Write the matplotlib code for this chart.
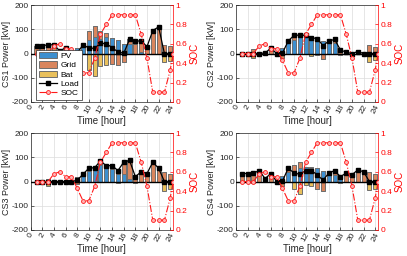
import matplotlib
matplotlib.use('Agg')
import matplotlib.pyplot as plt
import numpy as np
from matplotlib.lines import Line2D
from matplotlib.patches import Patch

plt.rcParams['font.family'] = ['Liberation Sans', 'DejaVu Sans']
plt.rcParams['axes.unicode_minus'] = False

hours = list(range(1, 25))
soc_hours = list(range(1, 25)) + [24.5]
soc = [0.5, 0.5, 0.5, 0.58, 0.6, 0.55, 0.55, 0.43, 0.3, 0.3, 0.45, 0.7,
       0.8, 0.9, 0.9, 0.9, 0.9, 0.9, 0.7, 0.45, 0.1, 0.1, 0.1, 0.33, 0.5]

cs1_pv = [0, 0, 0, 0, 0, 0, 0, 22, 38, 55, 68, 60, 68, 66, 55, 38, 40, 0, 8, 0, 0, 0, 0, 0]
cs1_grid = [32, 32, 36, 40, 10, 24, -10, -20, 0, 38, 46, 32, 18, -42, -48, -37, 18, 40, 45, 28, 95, 110, 37, 30]
cs1_bat = [0, 0, 0, 0, 0, 0, 0, 0, 0, -70, -93, -50, -46, 0, 0, 0, 0, 10, 0, 0, 0, 0, -37, -30]
cs1_load = [32, 32, 36, 36, 10, 24, 0, 2, 36, 23, 21, 42, 41, 24, 7, 1, 58, 50, 53, 28, 95, 110, 0, 0]

cs2_pv = [0, 0, 0, 0, 0, 0, 0, 22, 45, 55, 68, 68, 62, 60, 52, 42, 45, 0, 0, 0, 0, 0, 0, 0]
cs2_grid = [0, 0, 20, 0, 2, 22, -8, -20, 7, 20, 8, 7, 6, 5, -22, 10, 13, 15, 5, 0, 8, 0, 35, 28]
cs2_bat = [0, 0, -20, 0, 0, 0, 0, 0, 0, 0, 0, 0, -10, -8, 0, 0, 0, -8, 0, 0, 0, 0, -35, -28]
cs2_load = [0, 0, 0, 0, 2, 22, 0, 2, 52, 75, 76, 75, 65, 62, 32, 52, 58, 15, 5, 0, 8, 0, 0, 0]

cs3_pv = [0, 0, 0, 0, 0, 0, 0, 20, 25, 45, 50, 70, 55, 50, 30, 30, 10, 0, 0, 0, 0, 0, 0, 0]
cs3_grid = [0, 0, 10, 0, 0, 0, -8, -10, 5, 10, 7, 15, 13, 15, 15, 50, 77, 20, 40, 33, 80, 55, 38, 30]
cs3_bat = [0, 0, -20, 0, 0, 0, 0, 0, 0, 0, 0, 0, 0, 0, -5, 0, 0, -8, 0, 0, 0, 0, -38, -30]
cs3_load = [0, 0, 0, 0, 0, 0, 0, 5, 30, 55, 57, 85, 65, 66, 45, 80, 87, 20, 40, 33, 80, 55, 0, 0]

cs4_pv = [0, 0, 0, 0, 0, 0, 0, 22, 40, 45, 55, 60, 55, 55, 45, 30, 25, 10, 0, 0, 0, 0, 0, 0]
cs4_grid = [33, 33, 38, 45, 2, 33, -8, -20, 18, 25, 25, 0, 3, -30, -40, 5, 20, 10, 35, 28, 48, 40, 38, 30]
cs4_bat = [0, 0, -8, 0, 10, 0, 0, 0, 0, -30, -50, -15, -20, 0, 0, 0, 0, -8, 0, 0, 0, 0, -35, -30]
cs4_load = [33, 33, 35, 45, 12, 33, 0, 2, 55, 35, 30, 45, 45, 28, 5, 35, 45, 20, 35, 28, 48, 40, 0, 0]

stations = ['CS1', 'CS2', 'CS3', 'CS4']
pv_all = [cs1_pv, cs2_pv, cs3_pv, cs4_pv]
grid_all = [cs1_grid, cs2_grid, cs3_grid, cs4_grid]
bat_all = [cs1_bat, cs2_bat, cs3_bat, cs4_bat]
load_all = [cs1_load, cs2_load, cs3_load, cs4_load]

c_pv = '#3d8fcf'
c_grid = '#d9855d'
c_bat = '#e9c05c'
c_edge = '#6e6e6e'
c_axis = '#262626'

fig = plt.figure(figsize=(4.07, 2.56), dpi=100)
positions = [
    [0.0754, 0.602, 0.350, 0.378],
    [0.580, 0.602, 0.349, 0.378],
    [0.0754, 0.102, 0.350, 0.378],
    [0.580, 0.102, 0.349, 0.378],
]

for i in range(4):
    ax = fig.add_axes(positions[i])
    x = np.array(hours, dtype=float)
    pos_bottom = np.zeros(24)
    neg_bottom = np.zeros(24)
    for vals, col in [(pv_all[i], c_pv), (grid_all[i], c_grid), (bat_all[i], c_bat)]:
        v = np.array(vals, dtype=float)
        vp = np.where(v > 0, v, 0)
        vn = np.where(v < 0, v, 0)
        ax.bar(x, vp, width=0.7, bottom=pos_bottom, color=col, edgecolor=c_edge,
               linewidth=0.7, zorder=2)
        ax.bar(x, vn, width=0.7, bottom=neg_bottom, color=col, edgecolor=c_edge,
               linewidth=0.7, zorder=2)
        pos_bottom += vp
        neg_bottom += vn
    ax.axhline(0, color='black', lw=1.0, zorder=3)
    ax.plot(hours, load_all[i], color='black', lw=0.9, marker='s', ms=2.2, zorder=4)
    ax.set_xlim(0, 24.5)
    ax.set_ylim(-200, 200)
    ax.set_yticks([-200, -100, 0, 100, 200])
    ax.set_xticks(range(0, 25, 2))
    ax.set_xticklabels([str(t) for t in range(0, 25, 2)], rotation=60, ha='center')
    ax.tick_params(axis='both', labelsize=6, direction='in', length=2, width=0.5,
                   colors=c_axis, pad=1.5)
    ax.tick_params(axis='x', pad=1)
    ax.grid(True, color='#dcdcdc', lw=0.5, zorder=0)
    ax.set_axisbelow(True)
    ax.set_ylabel(stations[i] + ' Power [kW]', fontsize=6.5, labelpad=0.5, color=c_axis)
    ax.set_xlabel('Time [hour]', fontsize=7, labelpad=1, color=c_axis)
    for s in ['left', 'bottom', 'top']:
        ax.spines[s].set_color(c_axis)
        ax.spines[s].set_linewidth(0.5)
    ax.spines['right'].set_visible(False)

    ax2 = ax.twinx()
    ax2.set_ylim(0, 1)
    ax2.set_yticks([0, 0.2, 0.4, 0.6, 0.8, 1])
    ax2.set_yticklabels(['0', '0.2', '0.4', '0.6', '0.8', '1'])
    ax2.plot(soc_hours, soc, color='#ff1a1a', lw=0.8, ls='-.', marker='o', ms=2.8,
             mfc='#ffb3b3', mec='#ff1a1a', mew=0.6, zorder=5)
    ax2.tick_params(axis='y', labelsize=6, direction='in', length=2, width=0.5,
                    colors='#ff0000', pad=1.5)
    ax2.set_ylabel('SOC', fontsize=7, color='#ff0000', labelpad=2)
    ax2.spines['right'].set_color('#ff0000')
    ax2.spines['right'].set_linewidth(0.5)
    for s in ['left', 'bottom', 'top']:
        ax2.spines[s].set_visible(False)

    if i == 0:
        handles = [
            Patch(facecolor=c_pv, edgecolor=c_edge, linewidth=0.7),
            Patch(facecolor=c_grid, edgecolor=c_edge, linewidth=0.7),
            Patch(facecolor=c_bat, edgecolor=c_edge, linewidth=0.7),
            Line2D([], [], color='black', lw=0.9, marker='s', ms=2.2),
            Line2D([], [], color='#ff1a1a', lw=0.8, ls='-.', marker='o', ms=2.8,
                   mfc='#ffb3b3', mec='#ff1a1a', mew=0.6),
        ]
        leg = ax2.legend(handles, ['PV', 'Grid', 'Bat', 'Load', 'SOC'], fontsize=6,
                         loc='lower left', bbox_to_anchor=(0.04, 0.02), frameon=True,
                         fancybox=False, edgecolor=c_axis, framealpha=1,
                         handlelength=2.2, handleheight=0.8, labelspacing=0.15,
                         borderpad=0.3, handletextpad=0.4, borderaxespad=0)
        leg.get_frame().set_linewidth(0.5)

fig.savefig('out.png', dpi=100)
